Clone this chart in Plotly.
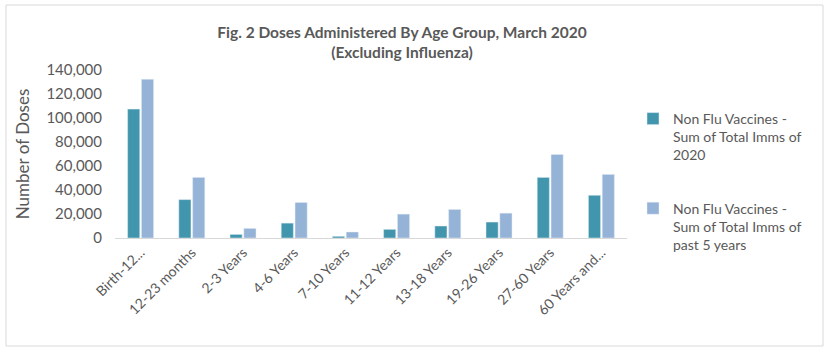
import plotly.graph_objects as go

categories = ["Birth-12...", "12-23 months", "2-3 Years", "4-6 Years", "7-10 Years",
              "11-12 Years", "13-18 Years", "19-26 Years", "27-60 Years", "60 Years and..."]
doses_2020 = [107400, 32000, 3000, 12400, 1400, 7200, 10000, 13300, 50500, 35600]
doses_past5 = [132300, 50500, 8000, 29600, 5000, 19900, 23800, 20700, 69600, 53000]
name_2020 = "Non Flu Vaccines -<br>Sum of Total Imms of<br>2020"
name_past5 = "Non Flu Vaccines -<br>Sum of Total Imms of<br>past 5 years"
y_ticks = [0, 20000, 40000, 60000, 80000, 100000, 120000, 140000]

W, H = 831, 355
ml, mr, mt, mb = 115, 204, 70, 117
pw, ph = W - ml - mr, H - mt - mb

fig = go.Figure()
fig.add_trace(go.Bar(x=categories, y=doses_2020, name=name_2020, marker_color="#4196AD",
                     legendgroup="a"))
fig.add_trace(go.Bar(x=categories, y=doses_past5, name=name_past5, marker_color="#95B3D7",
                     legendgroup="b"))

def px(x):
    return (x - ml) / pw

def py(y):
    return (H - mb - y) / ph

fig.update_layout(
    width=W, height=H,
    margin=dict(l=ml, r=mr, t=mt, b=mb, autoexpand=False),
    paper_bgcolor="white", plot_bgcolor="white",
    font=dict(family="Lato, 'Open Sans', sans-serif", color="#595959"),
    title=dict(text="<b>Fig. 2 Doses Administered By Age Group, March 2020<br>(Excluding Influenza)</b>",
               x=402 / W, xanchor="center", y=1 - 38 / H, yanchor="top",
               font=dict(size=15.5, color="#595959")),
    barmode="group", bargap=0.46, bargroupgap=0.12,
    legend=dict(x=px(633), xanchor="left", y=py(103), yanchor="top",
                font=dict(size=14, color="#595959"), tracegroupgap=32,
                itemwidth=30, valign="top", bgcolor="rgba(0,0,0,0)"),
    xaxis=dict(tickangle=-45, tickfont=dict(size=14, color="#595959"), automargin=False,
               showline=True, linecolor="#D9D9D9", linewidth=1, ticks="", showgrid=False),
    yaxis=dict(range=[0, 140000], tickvals=y_ticks, tickformat=",", showgrid=False,
               zeroline=False, showline=False, tickfont=dict(size=15, color="#595959"),
               automargin=False, ticklabelstandoff=12,
               title=dict(text="Number of Doses", font=dict(size=17, color="#595959"), standoff=12)),
    shapes=[dict(type="rect", xref="paper", yref="paper",
                 x0=px(6), x1=px(823), y0=py(346), y1=py(5),
                 line=dict(color="#D9D9D9", width=1), fillcolor="rgba(0,0,0,0)", layer="below")],
)

fig.write_html("out.html", post_script="document.body.style.margin='0';",
               config={"displayModeBar": False})
